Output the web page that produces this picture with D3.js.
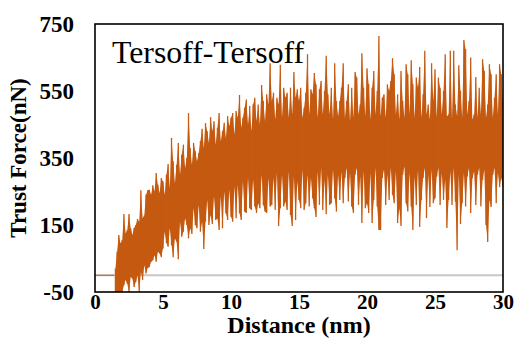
<!DOCTYPE html>
<html>
<head>
<meta charset="utf-8">
<script src="https://cdn.jsdelivr.net/npm/d3@7/dist/d3.min.js"></script>
<style>
    html, body { margin: 0; padding: 0; background: #fff; }
    svg { display: block; }
</style>
</head>
<body>
<div id="graphique"></div>
<script>
// ===============================
// Data
// ===============================
const xTicks = [0, 5, 10, 15, 20, 25, 30];
const yTicks = [-50, 150, 350, 550, 750];
const titreCourbe = "Tersoff-Tersoff";
const titreX = "Distance (nm)";
const titreY = "Trust Force(nN)";

// flat part before the contact
const approcheDistance = [0, 1.4];
const approcheForce = [0, 0];

// one row per nm, 8 samples per nm, the first row starts at 1.5 nm
const debutDistance = 1.5;
const pasDistance = 0.125;
const forceHaut = [
    20, 70, 120, 95,
    105, 183, 125, 135, 183, 140, 120, 141,
    150, 168, 160, 254, 170, 178, 240, 254,
    255, 240, 269, 250, 305, 270, 245, 290,
    280, 240, 300, 332, 260, 410, 340, 275,
    330, 395, 300, 360, 390, 320, 350, 484,
    380, 330, 395, 370, 340, 365, 400, 437,
    380, 454, 430, 395, 472, 430, 460, 390,
    440, 484, 400, 430, 455, 410, 475, 445,
    470, 484, 420, 490, 470, 538, 440, 470,
    500, 525, 450, 505, 430, 510, 530, 460,
    510, 450, 568, 520, 460, 540, 510, 633,
    520, 545, 465, 530, 510, 628, 470, 560,
    530, 545, 470, 560, 480, 607, 530, 555,
    520, 560, 470, 500, 545, 660, 480, 555,
    540, 604, 570, 470, 555, 580, 480, 550,
    655, 540, 480, 560, 465, 633, 520, 475,
    520, 560, 633, 470, 520, 570, 460, 560,
    470, 607, 590, 480, 510, 663, 560, 475,
    618, 570, 465, 560, 610, 480, 550, 714,
    475, 530, 540, 470, 570, 550, 580, 648,
    600, 480, 540, 465, 610, 520, 470, 630,
    600, 480, 642, 570, 470, 590, 560, 622,
    470, 540, 670, 480, 510, 465, 633, 520,
    615, 470, 590, 560, 480, 550, 660, 475,
    480, 670, 465, 670, 510, 475, 627, 550,
    470, 702, 675, 480, 520, 650, 465, 480,
    592, 470, 560, 480, 645, 610, 470, 510,
    630, 600, 470, 530, 600, 480, 630, 600,
    510
];
const forceBas = [
    -60, -60, -60, -60,
    -50, -30, -14, -25, -50, -5, -10, -35,
    -20, 0, -50, 10, -14, 30, 5, 22,
    25, 40, 45, 60, 40, 70, 65, 54,
    80, 130, 96, 85, 140, 90, 54, 110,
    100, 48, 160, 115, 130, 170, 150, 110,
    140, 123, 200, 150, 140, 210, 130, 160,
    78, 160, 225, 150, 180, 153, 235, 165,
    170, 135, 235, 140, 250, 185, 165, 255,
    175, 160, 265, 170, 270, 185, 165, 280,
    190, 186, 290, 200, 195, 285, 205, 186,
    215, 200, 300, 210, 190, 186, 290, 205,
    210, 290, 195, 305, 147, 200, 300, 205,
    220, 195, 310, 180, 147, 295, 165, 280,
    225, 200, 315, 195, 215, 300, 205, 290,
    230, 200, 174, 310, 210, 320, 195, 285,
    182, 300, 210, 215, 315, 230, 190, 300,
    225, 310, 215, 290, 320, 220, 305, 205,
    186, 300, 320, 210, 295, 156, 310, 200,
    215, 186, 305, 156, 225, 320, 205, 135,
    135, 290, 315, 210, 300, 225, 320, 240,
    215, 310, 156, 200, 147, 300, 325, 215,
    190, 305, 205, 135, 295, 210, 315, 144,
    225, 290, 320, 171, 300, 204, 315, 215,
    230, 295, 320, 210, 305, 225, 285, 141,
    225, 310, 210, 320, 220, 75, 300, 153,
    215, 305, 205, 295, 320, 186, 290, 310,
    210, 300, 320, 205, 285, 315, 150, 99,
    225, 204, 300, 320, 215, 305, 263, 290,
    265
];

// ===============================
// Scales
// ===============================
const largeur = 515;
const hauteur = 338;
const cadre = { gauche: 95, droite: 503, haut: 24, bas: 292 };

const echelleX = d3.scaleLinear().domain([0, 30]).range([cadre.gauche, cadre.droite]);
const echelleY = d3.scaleLinear().domain([-50, 750]).range([cadre.bas, cadre.haut]);

const svg = d3.select("#graphique").append("svg")
    .attr("width", largeur)
    .attr("height", hauteur);

svg.append("defs").append("clipPath").attr("id", "zone")
    .append("rect")
    .attr("x", cadre.gauche)
    .attr("y", cadre.haut)
    .attr("width", cadre.droite - cadre.gauche)
    .attr("height", cadre.bas - cadre.haut);

// ===============================
// Curve
// ===============================
const ligne = d3.line()
    .x(d => echelleX(d[0]))
    .y(d => echelleY(d[1]));

const distanceDe = i => debutDistance + i * pasDistance;

// band between the low and high of the signal
const bande = d3.area()
    .x((d, i) => echelleX(distanceDe(i)))
    .y0((d, i) => echelleY(forceBas[i]))
    .y1(d => echelleY(d));

// zero line
svg.append("line")
    .attr("x1", echelleX(0))
    .attr("x2", echelleX(30))
    .attr("y1", echelleY(0))
    .attr("y2", echelleY(0))
    .attr("stroke", "#c8c8c8")
    .attr("stroke-width", 2);

const zone = svg.append("g").attr("clip-path", "url(#zone)");

zone.append("path")
    .attr("d", ligne(approcheDistance.map((d, i) => [d, approcheForce[i]])))
    .attr("fill", "none")
    .attr("stroke", "#c55a11")
    .attr("stroke-width", 1);

zone.append("path")
    .attr("d", bande(forceHaut))
    .attr("fill", "#c55a11");

// the signal swings from low to high at each sample: one stroke per sample
zone.selectAll("line.oscillation")
    .data(forceHaut)
    .join("line")
    .attr("class", "oscillation")
    .attr("x1", (d, i) => echelleX(distanceDe(i)))
    .attr("x2", (d, i) => echelleX(distanceDe(i)))
    .attr("y1", d => echelleY(d))
    .attr("y2", (d, i) => echelleY(forceBas[i]))
    .attr("stroke", "#c55a11")
    .attr("stroke-width", 1.3);

// ===============================
// Frame and axes
// ===============================
svg.append("rect")
    .attr("x", cadre.gauche)
    .attr("y", cadre.haut)
    .attr("width", cadre.droite - cadre.gauche)
    .attr("height", cadre.bas - cadre.haut)
    .attr("fill", "none")
    .attr("stroke", "#000")
    .attr("stroke-width", 1.6);

const axeX = svg.append("g")
    .attr("transform", `translate(0,${cadre.bas})`)
    .call(d3.axisBottom(echelleX).tickValues(xTicks).tickSize(0).tickPadding(0));
const axeY = svg.append("g")
    .attr("transform", `translate(${cadre.gauche},0)`)
    .call(d3.axisLeft(echelleY).tickValues(yTicks).tickFormat(d => String(d)).tickSize(0).tickPadding(21));

axeX.select(".domain").remove();
axeY.select(".domain").remove();

axeX.selectAll("text")
    .attr("dy", null)
    .attr("y", 17)
    .attr("font-family", "'Liberation Serif'")
    .attr("font-weight", "bold")
    .attr("font-size", 21)
    .attr("fill", "#000");
axeY.selectAll("text")
    .attr("font-family", "'Liberation Serif'")
    .attr("font-weight", "bold")
    .attr("font-size", 23)
    .attr("fill", "#000");

// ===============================
// Titles
// ===============================
svg.append("text")
    .attr("x", 112)
    .attr("y", 63)
    .attr("font-family", "'Liberation Serif'")
    .attr("font-size", 31.8)
    .attr("fill", "#000")
    .text(titreCourbe);

svg.append("text")
    .attr("x", 299)
    .attr("y", 333)
    .attr("text-anchor", "middle")
    .attr("font-family", "'Liberation Serif'")
    .attr("font-weight", "bold")
    .attr("font-size", 24)
    .attr("fill", "#000")
    .text(titreX);

svg.append("text")
    .attr("transform", "translate(26,158) rotate(-90)")
    .attr("text-anchor", "middle")
    .attr("font-family", "'Liberation Serif'")
    .attr("font-weight", "bold")
    .attr("font-size", 23)
    .attr("fill", "#000")
    .text(titreY);
</script>
</body>
</html>
